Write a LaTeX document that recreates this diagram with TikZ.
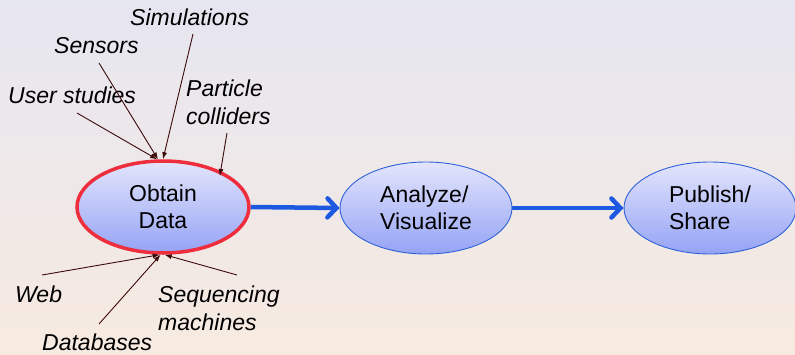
\documentclass[tikz,border=0pt]{standalone}
\usepackage{fontspec}
\setmainfont{Liberation Sans}
\usetikzlibrary{shapes.geometric,arrows.meta}
\definecolor{bgtop}{HTML}{E6E6F1}
\definecolor{bgbot}{HTML}{F7EAE0}
\definecolor{blobtop}{HTML}{E3E5FC}
\definecolor{blobbot}{HTML}{95A3F5}
\definecolor{blobline}{HTML}{2E62D8}
\definecolor{flowblue}{HTML}{1C58E0}
\definecolor{hotred}{HTML}{EE2E3C}
\definecolor{srcline}{HTML}{3C0A0A}
\tikzset{
  blob/.style={ellipse, minimum width=172, minimum height=92, inner sep=0pt,
    top color=blobtop, bottom color=blobbot, draw=blobline, line width=0.9pt,
    font=\fontsize{23}{27}\selectfont},
  source/.style={anchor=base west, inner sep=0pt, align=left,
    font=\fontsize{23}{28}\selectfont\itshape},
  feed/.style={srcline, line width=0.9pt, -{Latex[length=7pt,width=5pt]}},
  flow/.style={flowblue, line width=4.5pt, -{Straight Barb[length=9pt,width=19pt,line cap=round]}}
}
\begin{document}
\begin{tikzpicture}[x=1pt,y=-1pt]
 			\shade[top color=bgtop, bottom color=bgbot] (0,0) rectangle (795,354);
 			\useasboundingbox (0,0) rectangle (795,354);
 			\node[blob, draw=hotred, line width=3.5pt, align=center] (obtain) at (163,207) {Obtain\\Data};
 			\node[blob, align=left] (analyze) at (426,208) {Analyze/\\Visualize};
 			\node[blob, align=left] (publish) at (710,208) {Publish/\\Share};
 			\draw[flow] (obtain.east) -- (analyze.west);
 			\draw[flow] (analyze.east) -- (publish.west);
 			\node[source] (sim) at (130,25) {Simulations};
 			\node[source] (sens) at (54,53) {Sensors};
 			\node[source] (user) at (8,103) {User studies};
 			\node[source] (part) at (186,124) {Particle\\colliders};
 			\node[source] (web) at (15,302) {Web};
 			\node[source] (db) at (42,350) {Databases};
 			\node[source] (seq) at (158,330) {Sequencing\\machines};
 			\coordinate (simS) at (193,34);
 			\coordinate (sensS) at (99,63);
 			\coordinate (userS) at (77,113);
 			\coordinate (partS) at (227,133);
 			\coordinate (webS) at (42,275);
 			\coordinate (dbS) at (99,324);
 			\coordinate (seqS) at (237,275);
 			\draw[feed] (simS) -- (obtain.90);
 			\draw[feed] (sensS) -- (obtain.96);
 			\draw[feed] (userS) -- (obtain.97);
 			\draw[feed, shorten >=-5pt] (partS) -- (obtain.32);
 			\draw[feed] (webS) -- (obtain.-94);
 			\draw[feed] (dbS) -- (obtain.-93);
 			\draw[feed] (seqS) -- (obtain.-88);
 		\end{tikzpicture}
\end{document}
